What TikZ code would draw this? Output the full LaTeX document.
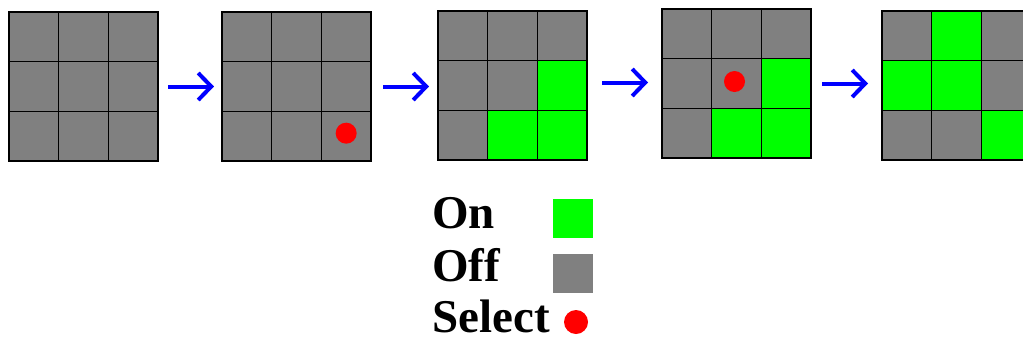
\documentclass[tikz,border=0pt]{standalone}
\usepackage{fontspec}
\setmainfont{Liberation Serif}
\usetikzlibrary{arrows.meta}

\definecolor{offgray}{RGB}{128,128,128}
\definecolor{ongreen}{RGB}{0,255,0}
\definecolor{selred}{RGB}{255,0,0}
\definecolor{flowblue}{RGB}{0,0,255}

\tikzset{
  cell/.style={draw=black, line width=1.6pt, minimum size=49.67pt,
               inner sep=0pt, outer sep=0pt, anchor=north west},
  offcell/.style={cell, fill=offgray},
  oncell/.style={cell, fill=ongreen},
  board/.style={minimum size=149pt, inner sep=0pt, outer sep=0pt, anchor=north west},
  selmark/.style={circle, fill=selred, minimum size=21pt, inner sep=0pt},
  flow/.style={draw=flowblue, line width=4pt,
               -{Straight Barb[length=13pt,width=27pt,line width=4pt]}},
  legendtext/.style={font=\fontsize{47}{47}\selectfont\bfseries,
                     anchor=base west, inner sep=0pt},
  legendbox/.style={minimum width=40pt, minimum height=39pt, inner sep=0pt,
                    anchor=north west},
}

% a 3x3 board of cells that are all off: name, top-left x, top-left y
\newcommand\gridboard[3]{%
  \node[board] (#1) at (#2,#3) {};
  \foreach \r in {1,2,3}
    \foreach \c in {1,2,3}
      \node[offcell] (#1-\r-\c) at ({#2+(\c-1)*49.667},{#3+(\r-1)*49.667}) {};
}
% switch one cell of a board on: board name, row, column
\newcommand\switchon[3]{%
  \node[oncell] (#1-on-#2-#3) at (#1-#2-#3.north west) {};
}

\begin{document}
\begin{tikzpicture}[x=1pt, y=-1pt]
  \useasboundingbox (0,0) rectangle (1023,341);
  \clip (0,0) rectangle (1023,341);

  % boards
  \gridboard{b1}{9}{12}
  \gridboard{b2}{222}{12}
  \gridboard{b3}{438}{11}
  \gridboard{b4}{662}{9}
  \gridboard{b5}{882}{11}

  \foreach \r/\c in {2/3,3/2,3/3} { \switchon{b3}{\r}{\c} }
  \foreach \r/\c in {2/3,3/2,3/3} { \switchon{b4}{\r}{\c} }
  \foreach \r/\c in {1/2,2/1,2/2,3/3} { \switchon{b5}{\r}{\c} }

  % selected cells
  \node[selmark] (s2) at ([shift={(0pt,3pt)}]b2-3-3) {};
  \node[selmark] (s4) at ([shift={(-2pt,2pt)}]b4-2-2) {};

  % steps
  \draw[flow, shorten <=10pt, shorten >=8pt]  (b1.east) -- (b2.west |- b1.east);
  \draw[flow, shorten <=12pt, shorten >=9pt]  (b2.east) -- (b3.west |- b2.east);
  \draw[flow, shorten <=15pt, shorten >=14pt] ([yshift=3pt]b3.east) -- ([yshift=3pt]b4.west |- b3.east);
  \draw[flow, shorten <=11pt, shorten >=14pt] (b4.east) -- (b5.west |- b4.east);

  % legend
  \node[legendtext] (lon)  at (432,228) {On};
  \node[legendtext] (loff) at (432,281) {Off};
  \node[legendtext] (lsel) at (432,332) {Select};
  \node[legendbox, fill=ongreen] (kon)  at (553,199) {};
  \node[legendbox, fill=offgray] (koff) at (553,254) {};
  \node[selmark, minimum size=24pt] (ksel) at (576,322) {};
\end{tikzpicture}
\end{document}
